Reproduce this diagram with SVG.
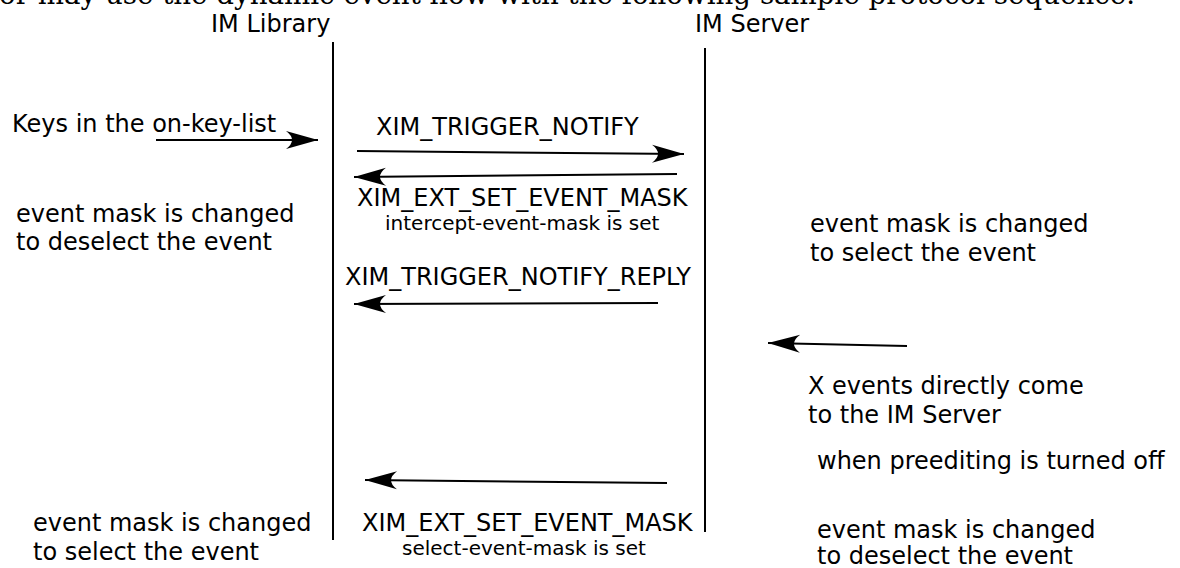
<svg xmlns="http://www.w3.org/2000/svg" width="1180" height="568" viewBox="0 0 1180 568">
<style>
text{font-family:"DejaVu Sans","Noto Sans",sans-serif;fill:#000}
.t{font-size:24px}
.s{font-size:20px}
.serif{font-family:"DejaVu Serif","Liberation Serif",serif;font-size:27.7px}
.life{stroke:#000;stroke-width:2;fill:none}
.msg{stroke:#000;stroke-width:2;fill:none;marker-end:url(#ah)}
</style>
<defs>
<marker id="ah" viewBox="-33 -10 34 20" refX="0" refY="0" markerWidth="34" markerHeight="20" markerUnits="userSpaceOnUse" orient="auto" overflow="visible">
<path d="M0,0 L-32,-9 Q-20,0 -32,9 Z" fill="#000"/>
</marker>
</defs>
<rect width="1180" height="568" fill="#fff"/>
<text class="serif" x="-1" y="4">or may use the dynamic event flow with the following sample protocol sequence.</text>
<g id="im-library">
<text class="t" x="211" y="32">IM Library</text>
<line class="life" x1="333" y1="42" x2="333" y2="540"/>
</g>
<g id="im-server">
<text class="t" x="695" y="32">IM Server</text>
<line class="life" x1="705" y1="48" x2="705" y2="532"/>
</g>
<g id="notes">
<text class="t" x="12" y="132">Keys in the on-key-list</text>
<text class="t" x="16" y="222">event mask is changed</text>
<text class="t" x="16" y="250">to deselect the event</text>
<text class="t" x="810" y="232">event mask is changed</text>
<text class="t" x="810" y="261">to select the event</text>
<text class="t" x="808" y="394">X events directly come</text>
<text class="t" x="808" y="423">to the IM Server</text>
<text class="t" x="817" y="469">when preediting is turned off</text>
<text class="t" x="33" y="531">event mask is changed</text>
<text class="t" x="33" y="560">to select the event</text>
<text class="t" x="817" y="538">event mask is changed</text>
<text class="t" x="817" y="564">to deselect the event</text>
</g>
<g id="labels">
<text class="t" x="376" y="135">XIM_TRIGGER_NOTIFY</text>
<text class="t" x="357" y="206">XIM_EXT_SET_EVENT_MASK</text>
<text class="s" x="385" y="230">intercept-event-mask is set</text>
<text class="t" x="345" y="285">XIM_TRIGGER_NOTIFY_REPLY</text>
<text class="t" x="362" y="531">XIM_EXT_SET_EVENT_MASK</text>
<text class="s" x="402" y="555">select-event-mask is set</text>
</g>
<g id="connectors">
<line class="msg" x1="156" y1="140" x2="318" y2="140"/>
<line class="msg" x1="357" y1="151" x2="684" y2="154"/>
<line class="msg" x1="677" y1="174" x2="354" y2="177"/>
<line class="msg" x1="658" y1="303" x2="354" y2="304"/>
<line class="msg" x1="907" y1="346" x2="768" y2="343"/>
<line class="msg" x1="667" y1="483" x2="365" y2="480"/>
</g>
</svg>
